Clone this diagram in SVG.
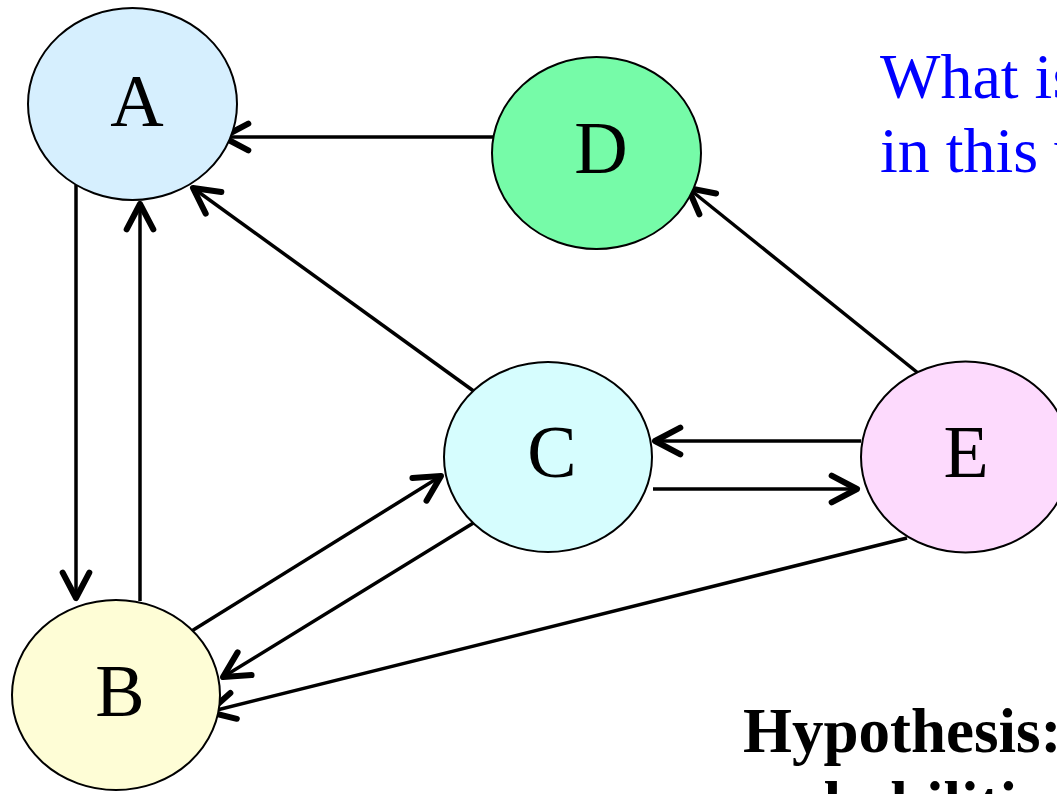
<svg xmlns="http://www.w3.org/2000/svg" width="1057" height="794" viewBox="0 0 1057 794">
<style>
.node{stroke:#000;stroke-width:2}
.lbl{font-family:"Liberation Serif","Times New Roman",serif;font-size:74px;fill:#000;text-anchor:middle}
.edge{stroke:#000;stroke-width:3.5;fill:none;marker-end:url(#arr)}
.blue{font-family:"Liberation Serif","Times New Roman",serif;font-size:64px;fill:#0000ff}
.bold{font-family:"Liberation Serif","Times New Roman",serif;font-size:63px;font-weight:bold;fill:#000}
</style>
<defs>
<marker id="arr" markerUnits="userSpaceOnUse" markerWidth="40" markerHeight="40" refX="0" refY="0" viewBox="-25 -15 30 30" orient="auto" overflow="visible">
<path d="M-19,-10 L0,0 L-19,10" fill="none" stroke="#000" stroke-width="4.5" stroke-linecap="round" stroke-linejoin="round"/>
</marker>
</defs>
<rect width="1057" height="794" fill="#fff"/>
<g id="connectors">
<line class="edge" x1="493" y1="137" x2="223" y2="137"/>
<line class="edge" x1="475" y1="392" x2="193" y2="188"/>
<line class="edge" x1="76" y1="185" x2="76" y2="598"/>
<line class="edge" x1="140" y1="601" x2="140" y2="204"/>
<line class="edge" x1="190" y1="632" x2="441" y2="476"/>
<line class="edge" x1="475" y1="522" x2="223" y2="677"/>
<line class="edge" x1="907" y1="538" x2="209" y2="712"/>
<line class="edge" x1="923" y1="377" x2="688" y2="188"/>
<line class="edge" x1="861" y1="441" x2="655" y2="441"/>
<line class="edge" x1="653" y1="489" x2="857" y2="489"/>
</g>
<g id="node-A">
<ellipse class="node" cx="132.5" cy="104" rx="104.5" ry="96" fill="#d6effe"/>
<text class="lbl" x="137" y="126">A</text>
</g>
<g id="node-D">
<ellipse class="node" cx="596.5" cy="153" rx="104.5" ry="96" fill="#76fba8"/>
<text class="lbl" x="601" y="173">D</text>
</g>
<g id="node-C">
<ellipse class="node" cx="548" cy="457" rx="104" ry="95" fill="#d6fdfe"/>
<text class="lbl" x="552" y="477">C</text>
</g>
<g id="node-E">
<ellipse class="node" cx="965.5" cy="457" rx="104.5" ry="95.5" fill="#fddafd"/>
<text class="lbl" x="966" y="477">E</text>
</g>
<g id="node-B">
<ellipse class="node" cx="116" cy="695" rx="104" ry="95" fill="#fefdd6"/>
<text class="lbl" x="120" y="716">B</text>
</g>
<g id="texts">
<text class="blue" x="880" y="98">What is</text>
<text class="blue" x="880" y="172">in this w</text>
<text class="bold" x="743" y="752">Hypothesis:</text>
<text class="bold" x="731" y="825">probabilities</text>
</g>
</svg>
